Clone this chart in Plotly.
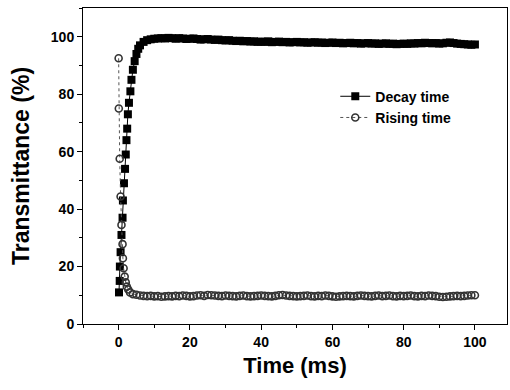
import plotly.graph_objects as go

# ---- data ----
decay_time_ms = [0.1, 0.3, 0.35, 0.55, 0.8, 1.1, 1.2, 1.5, 1.8, 2.0, 2.2, 2.4, 2.6, 2.9, 3.3,
                 3.6, 4.0, 4.5, 5.0, 5.5,
                 6, 7, 8, 9, 10, 11, 12, 13, 14, 15, 16, 17, 18, 19, 20,
                 21, 22, 23, 24, 25, 26, 27, 28, 29, 30, 31, 32, 33, 34, 35,
                 36, 37, 38, 39, 40, 41, 42, 43, 44, 45, 46, 47, 48, 49, 50,
                 51, 52, 53, 54, 55, 56, 57, 58, 59, 60, 61, 62, 63, 64, 65,
                 66, 67, 68, 69, 70, 71, 72, 73, 74, 75, 76, 77, 78, 79, 80,
                 81, 82, 83, 84, 85, 86, 87, 88, 89, 90, 91, 92, 93, 94, 95,
                 96, 97, 98, 99, 100]
decay_values = [11, 15, 20, 25, 31, 37, 43, 49, 54, 59, 64, 68, 73, 77, 81,
                85, 88.5, 91.5, 94, 95.8,
                97.0, 98.2, 98.8, 99.1, 99.3, 99.4, 99.5, 99.4, 99.6, 99.5, 99.3, 99.5, 99.4, 99.2, 99.3,
                99.4, 99.2, 99.0, 99.1, 99.2, 99.0, 98.9, 99.0, 98.8, 98.7, 98.8, 98.6, 98.5, 98.6, 98.4,
                98.5, 98.3, 98.4, 98.2, 98.3, 98.2, 98.4, 98.1, 98.2, 98.3, 98.1, 98.2, 98.0, 98.1, 98.2,
                98.0, 98.1, 97.9, 98.0, 98.1, 97.9, 98.0, 97.8, 97.9, 98.0, 97.8, 97.9, 97.7, 97.8, 97.9,
                97.7, 97.8, 97.6, 97.7, 97.8, 97.6, 97.7, 97.5, 97.6, 97.7, 97.5, 97.6, 97.4, 97.5, 97.6,
                97.5, 97.7, 97.6, 97.8, 97.7, 97.9, 97.8, 97.7, 97.8, 97.6, 97.7, 97.9, 98.0, 97.8, 97.6,
                97.5, 97.4, 97.3, 97.2, 97.3]

rising_time_ms = [0.0, 0.05, 0.3, 0.55, 0.8, 1.1, 1.2, 1.4, 1.7, 2.0, 2.3, 2.7, 3.2, 4.0,
                  5, 6, 7, 8, 9, 10, 11, 12, 13, 14, 15, 16, 17, 18, 19, 20,
                  21, 22, 23, 24, 25, 26, 27, 28, 29, 30, 31, 32, 33, 34, 35,
                  36, 37, 38, 39, 40, 41, 42, 43, 44, 45, 46, 47, 48, 49, 50,
                  51, 52, 53, 54, 55, 56, 57, 58, 59, 60, 61, 62, 63, 64, 65,
                  66, 67, 68, 69, 70, 71, 72, 73, 74, 75, 76, 77, 78, 79, 80,
                  81, 82, 83, 84, 85, 86, 87, 88, 89, 90, 91, 92, 93, 94, 95,
                  96, 97, 98, 99, 100]
rising_values = [92.5, 75, 57.5, 44.4, 34.5, 27.8, 22.9, 19.4, 16.5, 14.5, 13.0, 12.0, 11.0, 10.4,
                 10.2, 9.9, 9.8, 9.7, 9.8, 9.6, 9.7, 9.5, 9.6, 9.7, 9.6, 9.8, 9.7, 9.9, 9.8, 9.6,
                 9.7, 9.9, 10.0, 9.8, 10.1, 10.0, 9.9, 9.8, 9.7, 9.9, 9.8, 9.7, 9.6, 9.8, 9.9,
                 9.7, 9.6, 9.7, 9.8, 9.9, 9.8, 9.7, 9.6, 9.8, 10.0, 10.1, 9.9, 9.8, 9.7, 9.6,
                 9.7, 9.8, 9.9, 9.7, 9.6, 9.8, 9.7, 9.9, 9.8, 9.6, 9.5, 9.6, 9.7, 9.8, 9.7,
                 9.6, 9.8, 9.9, 9.8, 9.7, 9.6, 9.8, 9.9, 9.7, 9.8, 9.9, 9.7, 9.6, 9.8, 9.7,
                 9.8, 9.9, 9.7, 9.6, 9.8, 9.7, 9.9, 9.8, 9.7, 9.5, 9.4, 9.5, 9.6, 9.7, 9.8,
                 9.7, 9.8, 9.9, 10.0, 10.0]

series_names = ["Decay time", "Rising time"]
x_tick_values = [0, 20, 40, 60, 80, 100]
y_tick_values = [0, 20, 40, 60, 80, 100]

FONT = "Arial, Liberation Sans, Helvetica, sans-serif"

fig = go.Figure()
fig.add_trace(go.Scatter(
    x=decay_time_ms, y=decay_values, name=series_names[0], mode="lines+markers",
    line=dict(color="black", width=1),
    marker=dict(symbol="square", size=8, color="black"),
))
fig.add_trace(go.Scatter(
    x=rising_time_ms, y=rising_values, name=series_names[1], mode="lines+markers",
    line=dict(color="#555555", width=1, dash="dot"),
    marker=dict(symbol="circle-open", size=7, color="#333333", line=dict(width=1.6)),
))

axis_common = dict(
    showline=True, linecolor="black", linewidth=1, mirror=True,
    ticks="outside", ticklen=5, tickwidth=1, tickcolor="black",
    showgrid=False, zeroline=False, automargin=False,
    tickfont=dict(family=FONT, size=14, color="black", weight="bold"),
    minor=dict(ticks="outside", ticklen=3, tickwidth=1, tickcolor="black", dtick=10, showgrid=False),
)

fig.update_xaxes(
    range=[-10, 109], tickvals=x_tick_values, **axis_common,
    title=dict(text="Time (ms)", font=dict(family=FONT, size=22, color="black", weight="bold"), standoff=8),
)
fig.update_yaxes(
    range=[0, 110], tickvals=y_tick_values, **axis_common,
    title=dict(text="Transmittance (%)", font=dict(family=FONT, size=23, color="black", weight="bold"), standoff=14),
)

fig.update_layout(
    width=510, height=390,
    margin=dict(l=83, r=3, t=8, b=66),
    plot_bgcolor="white", paper_bgcolor="white",
    showlegend=True,
    legend=dict(
        x=0.595, y=0.77, xanchor="left", yanchor="top",
        bgcolor="rgba(0,0,0,0)",
        font=dict(family=FONT, size=14, color="black", weight="bold"),
        itemwidth=30,
    ),
)

fig.write_html(
    "out.html",
    config={"displayModeBar": False},
    post_script="document.body.style.margin='0';document.body.style.overflow='hidden';",
)
